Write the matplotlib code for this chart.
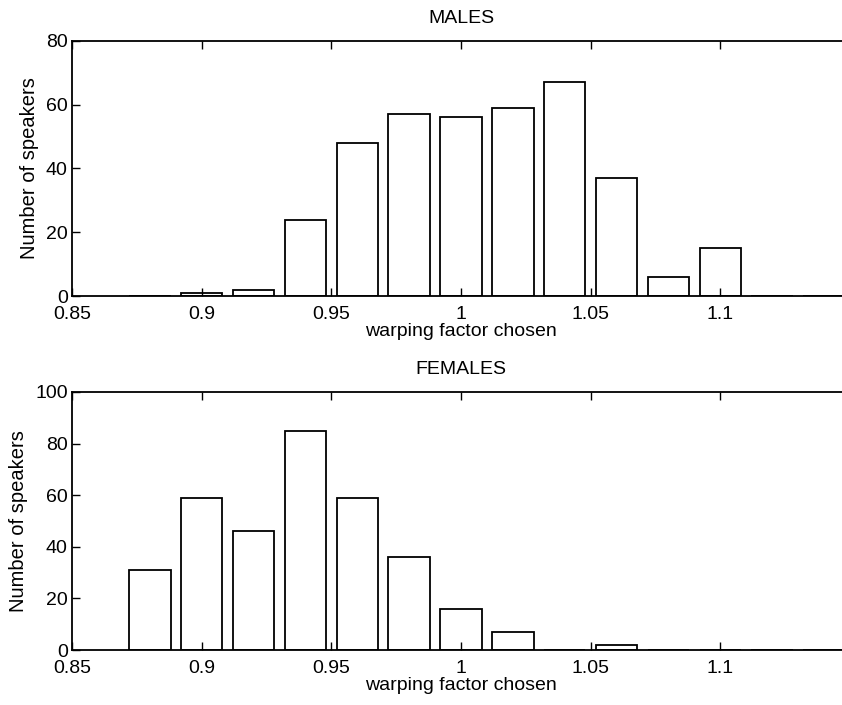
import numpy as np
import matplotlib
matplotlib.use("Agg")
import matplotlib.pyplot as plt

plt.rcParams['font.family'] = ['Liberation Sans', 'DejaVu Sans']

# bin centres (warping factor) and counts
male_bins = [0.88, 0.90, 0.92, 0.94, 0.96, 0.98, 1.00, 1.02, 1.04, 1.06, 1.08, 1.10, 1.12, 1.14]
male_counts = [0, 1, 2, 24, 48, 57, 56, 59, 67, 37, 6, 15, 0, 0]

female_bins = [0.88, 0.90, 0.92, 0.94, 0.96, 0.98, 1.00, 1.02, 1.04, 1.06, 1.08, 1.10, 1.12, 1.14]
female_counts = [31, 59, 46, 85, 59, 36, 16, 7, 0, 2, 0, 0, 0, 0]

xticks = [0.85, 0.9, 0.95, 1, 1.05, 1.1]
xtick_labels = ['0.85', '0.9', '0.95', '1', '1.05', '1.1']

fig = plt.figure(figsize=(8.42, 7.05), dpi=100)

panels = [
    ("MALES", male_bins, male_counts, [0, 20, 40, 60, 80], [0.0855, 0.580, 0.924, 0.362]),
    ("FEMALES", female_bins, female_counts, [0, 20, 40, 60, 80, 100], [0.0855, 0.078, 0.924, 0.366]),
]

for title, bins, counts, yticks, pos in panels:
    ax = fig.add_axes(pos)
    ax.bar(bins, counts, width=0.016, color='white', edgecolor='black', linewidth=1.3)
    ax.set_xlim(0.85, 1.15)
    ax.set_ylim(0, yticks[-1])
    ax.set_xticks(xticks)
    ax.set_xticklabels(xtick_labels)
    ax.set_yticks(yticks)
    ax.tick_params(direction='in', length=5.5, width=1, top=True, right=False, labelsize=14)
    ax.tick_params(axis='x', pad=7)
    ax.tick_params(axis='y', pad=3)
    ax.spines['right'].set_visible(False)
    for s in ['left', 'bottom', 'top']:
        ax.spines[s].set_linewidth(1.3)
    ax.set_title(title, fontsize=14, pad=13)
    ax.set_xlabel('warping factor chosen', fontsize=14, labelpad=0)
    ax.set_ylabel('Number of speakers', fontsize=14.5, labelpad=5)

fig.savefig('out.png', dpi=100)
